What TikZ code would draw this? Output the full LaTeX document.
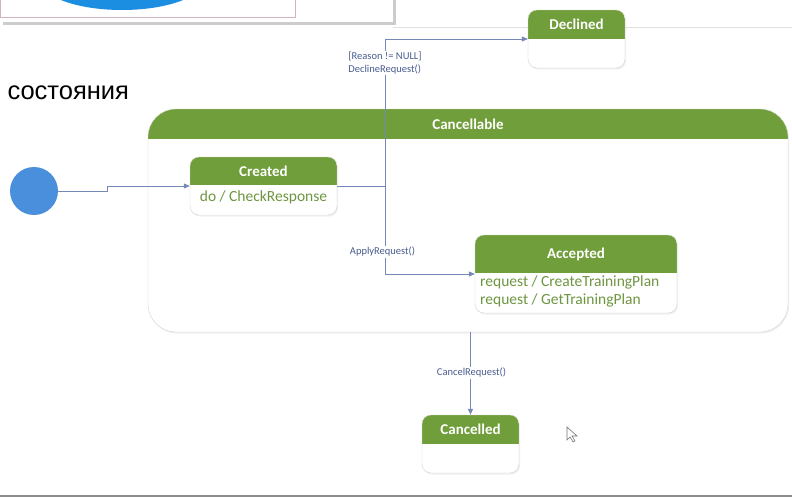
\documentclass[tikz,border=0pt]{standalone}
\usepackage{fontspec}
\setmainfont{Carlito}
\newfontfamily\slidefont{Liberation Sans}
\usetikzlibrary{positioning,shadows,arrows.meta}
\definecolor{hdrgreen}{RGB}{112,158,58}
\definecolor{bodygreen}{RGB}{110,150,64}
\definecolor{edgeline}{RGB}{212,214,198}
\definecolor{wire}{RGB}{118,136,182}
\definecolor{wiretext}{RGB}{72,92,142}
\definecolor{startblue}{RGB}{74,143,220}
\definecolor{popblue}{RGB}{28,142,226}
\definecolor{pinkline}{RGB}{214,180,188}
\tikzset{
  state/.style={draw=edgeline, fill=white, rounded corners=9pt, inner sep=0pt,
    drop shadow={shadow xshift=1pt, shadow yshift=-1.5pt, opacity=0.12},
    path picture={\fill[hdrgreen,sharp corners] (path picture bounding box.north west) rectangle ([yshift=-#1]path picture bounding box.north east);}},
  state/.default=29pt,
  title/.style={text=white, font=\bfseries\fontsize{15}{17}\selectfont, minimum height=#1, inner sep=0pt},
  title/.default=29pt,
  body/.style={text=bodygreen, font=\fontsize{15.5}{18}\selectfont, align=left, inner sep=0pt},
  trig/.style={text=wiretext, fill=white, font=\fontsize{10.5}{13}\selectfont, align=left, inner sep=1pt},
  wireline/.style={draw=wire, line width=0.8pt},
  arr/.style={wireline, -{Triangle[length=6pt,width=5pt]}},
}
\begin{document}
\begin{tikzpicture}[x=1pt,y=-1pt]
\clip (0,0) rectangle (792,497);
\fill[white] (0,0) rectangle (792,497);

\node[fill=white, drop shadow={shadow xshift=3pt, shadow yshift=-3pt, opacity=0.4}, minimum width=393pt, minimum height=40pt, inner sep=0pt, anchor=south west] (popup) at (0,22) {};
\node[draw=pinkline, minimum width=295pt, minimum height=35pt, inner sep=0pt, anchor=south west] (frame) at (0,17) {};
\fill[popblue] (122,-20) ellipse (82 and 30);
\draw[black!12] (popup.south east |- 0,27) -- (792,27);
\fill[black!45] (0,495) rectangle (792,497);

\node[anchor=base west, font=\slidefont\fontsize{25.5}{30}\selectfont] (caption) at (4,100) {состояния};

\node[state=30pt, rounded corners=28pt, minimum width=640pt, minimum height=223pt] (cancellable) at (468,220.5) {};
\node[title=30pt, below=0pt of cancellable.north] (cancellableT) {Cancellable};

\node[circle, fill=startblue, minimum size=48pt, inner sep=0pt] (init) at (34,191) {};

\node[state=28pt, minimum width=147pt, minimum height=58pt] (created) at (263.5,186) {};
\node[title=28pt, below=0pt of created.north] (createdT) {Created};
\node[body, below=5pt of createdT] (createdB) {do / CheckResponse};
\draw[arr] (init.east) -- ++(49,0) |- (created.west);

\node[state, minimum width=97pt, minimum height=58pt] (declined) at (576.5,39) {};
\node[title, below=0pt of declined.north] (declinedT) {Declined};

\node[state=38pt, minimum width=202pt, minimum height=78pt] (accepted) at (576,274) {};
\node[title=38pt, below=0pt of accepted.north] (acceptedT) {Accepted};
\node[body, anchor=north west] (acceptedB) at (480,276) {request / CreateTrainingPlan\\request / GetTrainingPlan};

\coordinate (fork) at ([xshift=48pt]created.east);
\draw[wireline] (created.east) -- (fork);
\draw[arr] (fork) |- (declined.west);
\draw[arr] (fork) |- (accepted.west);
\node[trig] (declineLbl) at (385,63) {[Reason != NULL]\\DeclineRequest()};
\node[trig] (applyLbl) at (382.5,252) {ApplyRequest()};

\node[state, minimum width=97pt, minimum height=58pt] (cancelled) at (470.5,444) {};
\node[title, below=0pt of cancelled.north] (cancelledT) {Cancelled};
\draw[arr] (cancelled.north |- cancellable.south) -- (cancelled.north);
\node[trig] (cancelLbl) at (471.5,373) {CancelRequest()};

\draw[black!55, fill=white, line width=0.6pt] (567,427) -- (567,440) -- (570,437) -- (573,442) -- (575,441) -- (572,436) -- (577,436) -- cycle;

\end{tikzpicture}
\end{document}
